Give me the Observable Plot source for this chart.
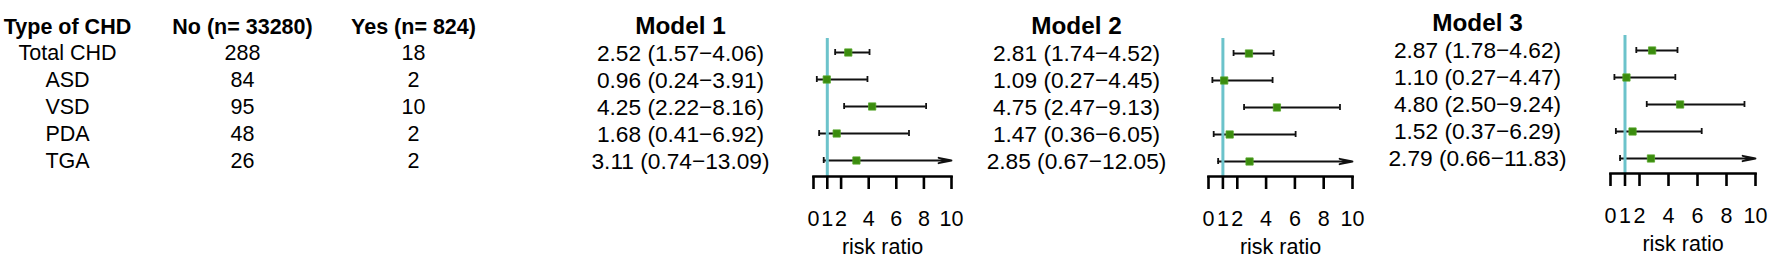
<!DOCTYPE html>
<html>
<head>
<meta charset="utf-8">
<script src="https://cdn.jsdelivr.net/npm/d3@7"></script>
<script src="https://cdn.jsdelivr.net/npm/@observablehq/plot@0.6"></script>
<style>
  html, body { margin: 0; padding: 0; background: #fff; }
  #wrap { position: relative; width: 1772px; height: 260px; overflow: hidden; background: #fff; }
  #wrap > svg { position: absolute; top: 0; }
</style>
</head>
<body>
<div id="wrap"></div>
<script>
// ---------------- data ----------------
const chdTypes = ["Total CHD", "ASD", "VSD", "PDA", "TGA"];
const noCounts = [288, 84, 95, 48, 26];
const yesCounts = [18, 2, 10, 2, 2];
const columnHeaders = ["Type of CHD", "No (n= 33280)", "Yes (n= 824)", "Model 1", "Model 2", "Model 3"];

const model1Est = [2.52, 0.96, 4.25, 1.68, 3.11];
const model1Lo  = [1.57, 0.24, 2.22, 0.41, 0.74];
const model1Hi  = [4.06, 3.91, 8.16, 6.92, 13.09];

const model2Est = [2.81, 1.09, 4.75, 1.47, 2.85];
const model2Lo  = [1.74, 0.27, 2.47, 0.36, 0.67];
const model2Hi  = [4.52, 4.45, 9.13, 6.05, 12.05];

const model3Est = [2.87, 1.10, 4.80, 1.52, 2.79];
const model3Lo  = [1.78, 0.27, 2.50, 0.37, 0.66];
const model3Hi  = [4.62, 4.47, 9.24, 6.29, 11.83];

const xTicks = [0, 1, 2, 4, 6, 8, 10];
const xMax = 10;
const refValue = 1;
const axisLabel = "risk ratio";

// ---------------- styles / layout ----------------
const FONT = "'Liberation Sans', Arial, Helvetica, sans-serif";
const W = 1772, H = 260;
const colX = [67, 242, 413, 680, 1076, 1477];   // column centres (layout)
const colDy = [0, 0, 0, 0, 0, -3];
const rowKeys = ["header", ...chdTypes];
const rowRange = [25.5, 162];
const teal = "#6cc3cb";
const green = "#3b8c0e";

const fmt = v => v.toFixed(2);
const models = [
  {est: model1Est, lo: model1Lo, hi: model1Hi},
  {est: model2Est, lo: model2Lo, hi: model2Hi},
  {est: model3Est, lo: model3Lo, hi: model3Hi}
];

// one list of cell texts per column
const columns = [
  chdTypes.slice(),
  noCounts.map(String),
  yesCounts.map(String),
  ...models.map(m => chdTypes.map((t, i) => `${fmt(m.est[i])} (${fmt(m.lo[i])}\u2212${fmt(m.hi[i])})`))
];

const wrap = document.getElementById("wrap");

const tableMarks = [];
columns.forEach((vals, c) => {
  const body = vals.map((v, i) => ({row: chdTypes[i], label: v}));
  tableMarks.push(Plot.text(body, {y: "row", text: "label", frameAnchor: "left", dx: colX[c], dy: colDy[c],
    textAnchor: "middle", fontSize: c < 3 ? 21.5 : 22.7, fill: "#000"}));
  tableMarks.push(Plot.text([{row: "header", label: columnHeaders[c]}], {y: "row", text: "label", frameAnchor: "left",
    dx: colX[c], dy: colDy[c] + (c < 3 ? 1 : 0), textAnchor: "middle", fontSize: c < 3 ? 21.5 : 24.3, fontWeight: "bold", fill: "#000"}));
});

const tablePlot = Plot.plot({
  width: W, height: H,
  margin: 0,
  style: {fontFamily: FONT, background: "transparent", color: "#000"},
  y: {type: "point", domain: rowKeys, range: rowRange, padding: 0, axis: null},
  marks: tableMarks
});
tablePlot.style.left = "0px";
wrap.appendChild(tablePlot);

// forest panels layout
const panels = [
  {left: 790, width: 185, x0: 813, x10: 951, top: 38, axisY: 176, rowFirst: 51.8, rowLast: 161.4},
  {left: 1185, width: 185, x0: 1208, x10: 1352, top: 38, axisY: 176, rowFirst: 53.2, rowLast: 162},
  {left: 1587, width: 185, x0: 1610, x10: 1755, top: 35, axisY: 173, rowFirst: 50, rowLast: 159.3}
];

function forest(m, p) {
  const data = chdTypes.map((t, i) => ({type: t, est: m.est[i], lo: m.lo[i], hi: m.hi[i]}));
  const n = chdTypes.length;
  const step = (p.rowLast - p.rowFirst) / (n - 1);
  const capH = 6.5;
  const pad = 1 - capH / step;
  const half = step * (1 + pad) / 2;
  return Plot.plot({
    width: p.width, height: H,
    marginLeft: p.x0 - p.left,
    marginRight: p.left + p.width - p.x10,
    marginTop: p.top,
    marginBottom: H - p.axisY,
    style: {fontFamily: FONT, background: "transparent", color: "#000", overflow: "visible"},
    x: {domain: [0, xMax]},
    y: {type: "band", domain: chdTypes, padding: pad, range: [p.rowFirst - half, p.rowLast + half], axis: null},
    marks: [
      Plot.ruleY(data.filter(d => d.hi <= xMax), {x1: "lo", x2: "hi", y: "type", stroke: "#111", strokeWidth: 1.8}),
      Plot.arrow(data.filter(d => d.hi > xMax), {x1: "lo", x2: () => xMax, y1: "type", y2: "type", stroke: "#111", strokeWidth: 1.8, headLength: 11, headAngle: 24, bend: 0}),
      Plot.tickX(data, {x: "lo", y: "type", stroke: "#111", strokeWidth: 1.8}),
      Plot.tickX(data.filter(d => d.hi <= xMax), {x: "hi", y: "type", stroke: "#111", strokeWidth: 1.8}),
      Plot.ruleX([refValue], {stroke: teal, strokeWidth: 3}),
      Plot.dot(data, {x: "est", y: "type", symbol: "square", r: 4.1, fill: green, stroke: "#55a62a", strokeWidth: 0.8}),
      Plot.frame({anchor: "bottom", stroke: "#000", strokeWidth: 2.6}),
      Plot.axisX(xTicks, {tickSize: 13, tickPadding: 21, strokeWidth: 2.6, fontSize: 21.5, fill: "#000", stroke: "#000",
        label: axisLabel, labelAnchor: "center", labelOffset: 77, labelArrow: "none"})
    ]
  });
}

panels.forEach((p, k) => {
  const svg = forest(models[k], p);
  svg.style.left = p.left + "px";
  wrap.appendChild(svg);
});
</script>
</body>
</html>
